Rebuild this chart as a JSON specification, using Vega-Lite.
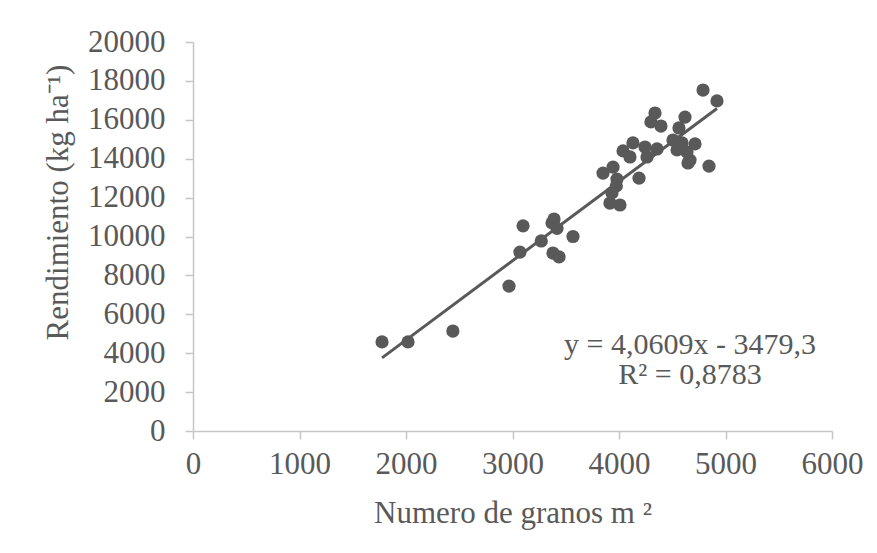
{
  "$schema": "https://vega.github.io/schema/vega-lite/v6.json",
  "width": 639,
  "height": 389,
  "autosize": "none",
  "padding": {"left": 193, "top": 42, "right": 45, "bottom": 122},
  "background": "white",
  "config": {
    "view": {"stroke": null},
    "font": "Liberation Serif",
    "axis": {
      "grid": false,
      "domainColor": "#C6C6C6",
      "domainWidth": 1.5,
      "tickColor": "#C6C6C6",
      "tickWidth": 1.5,
      "tickSize": 8,
      "labelFont": "Liberation Serif",
      "labelFontSize": 31,
      "labelColor": "#595959",
      "labelOverlap": false,
      "labelBound": false,
      "labelFlush": false,
      "format": "d",
      "titleFont": "Liberation Serif",
      "titleFontSize": 31,
      "titleFontWeight": "normal",
      "titleColor": "#595959"
    }
  },
  "data": {
    "values": [
      {"granos": 1775, "rend": 4580},
      {"granos": 2019, "rend": 4580},
      {"granos": 2440, "rend": 5140},
      {"granos": 2967, "rend": 7450},
      {"granos": 3070, "rend": 9200},
      {"granos": 3099, "rend": 10550},
      {"granos": 3270, "rend": 9770},
      {"granos": 3371, "rend": 10700},
      {"granos": 3390, "rend": 10900},
      {"granos": 3418, "rend": 10420},
      {"granos": 3568, "rend": 10000},
      {"granos": 3380, "rend": 9150},
      {"granos": 3437, "rend": 8950},
      {"granos": 4789, "rend": 17530},
      {"granos": 4920, "rend": 16970},
      {"granos": 4338, "rend": 16350},
      {"granos": 4300, "rend": 15890},
      {"granos": 4394, "rend": 15680},
      {"granos": 4620, "rend": 16140},
      {"granos": 4563, "rend": 15580},
      {"granos": 4507, "rend": 14960},
      {"granos": 4592, "rend": 14810},
      {"granos": 4714, "rend": 14760},
      {"granos": 4545, "rend": 14450},
      {"granos": 4638, "rend": 14340},
      {"granos": 4667, "rend": 13930},
      {"granos": 4648, "rend": 13780},
      {"granos": 4845, "rend": 13620},
      {"granos": 4131, "rend": 14810},
      {"granos": 4038, "rend": 14400},
      {"granos": 4103, "rend": 14090},
      {"granos": 4244, "rend": 14600},
      {"granos": 4357, "rend": 14500},
      {"granos": 4263, "rend": 14090},
      {"granos": 4188, "rend": 13000},
      {"granos": 3850, "rend": 13260},
      {"granos": 3944, "rend": 13570},
      {"granos": 3981, "rend": 12950},
      {"granos": 3975, "rend": 12600},
      {"granos": 3934, "rend": 12240},
      {"granos": 3915, "rend": 11720},
      {"granos": 4009, "rend": 11620}
    ]
  },
  "layer": [
    {
      "mark": {"type": "circle", "size": 175, "color": "#595959", "opacity": 1},
      "encoding": {
        "x": {
          "field": "granos", "type": "quantitative",
          "scale": {"domain": [0, 6000], "nice": false},
          "axis": {
            "values": [0, 1000, 2000, 3000, 4000, 5000, 6000],
            "tickCount": 20,
            "title": "Numero de granos m ²",
            "labelPadding": 10,
            "labelOverlap": false,
            "titleBaseline": "alphabetic",
            "titleY": 91
          }
        },
        "y": {
          "field": "rend", "type": "quantitative",
          "scale": {"domain": [0, 20000], "nice": false},
          "axis": {
            "values": [0, 2000, 4000, 6000, 8000, 10000, 12000, 14000, 16000, 18000, 20000],
            "tickCount": 20,
            "title": "Rendimiento (kg ha⁻¹)",
            "labelPadding": 20,
            "labelOverlap": false,
            "labelSeparation": 0,
            "titleAngle": -90,
            "titleAlign": "center",
            "titleBaseline": "middle",
            "titleX": -135,
            "titleY": 160
          }
        }
      }
    },
    {
      "transform": [{"regression": "rend", "on": "granos"}],
      "mark": {"type": "line", "color": "#595959", "strokeWidth": 3},
      "encoding": {
        "x": {"field": "granos", "type": "quantitative"},
        "y": {"field": "rend", "type": "quantitative"}
      }
    },
    {
      "data": {"values": [{"label": "ecuacion"}]},
      "mark": {"type": "text", "font": "Liberation Serif", "fontSize": 30, "color": "#595959", "align": "center", "baseline": "alphabetic", "lineHeight": 30},
      "encoding": {
        "x": {"datum": 4667, "type": "quantitative"},
        "y": {"datum": 3960, "type": "quantitative"},
        "text": {"value": ["y = 4,0609x - 3479,3", "R² = 0,8783"]}
      }
    }
  ]
}
